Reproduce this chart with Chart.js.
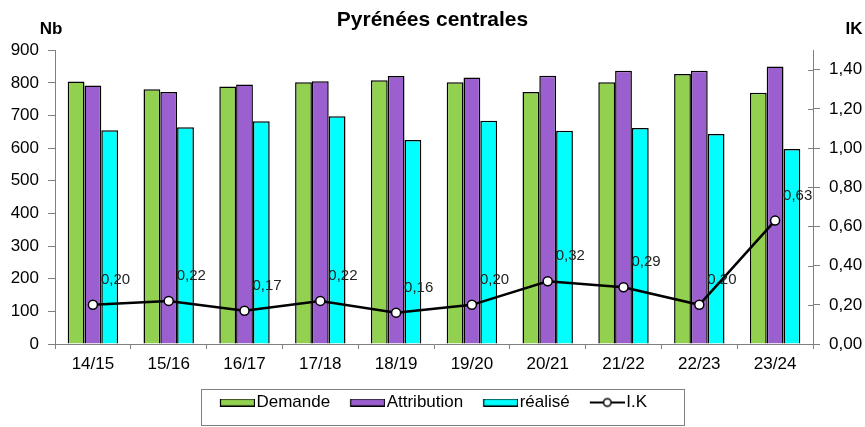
<!DOCTYPE html>
<html><head><meta charset="utf-8">
<script src="https://cdn.jsdelivr.net/npm/chart.js@4.4.1/dist/chart.umd.min.js"></script>
<style>html,body{margin:0;padding:0;background:#fff;} #wrap{width:865px;height:427px;position:relative;}</style>
</head><body><div id="wrap"><canvas id="c"></canvas></div>
<script>
const categories = ['14/15','15/16','16/17','17/18','18/19','19/20','20/21','21/22','22/23','23/24'];
const demande = [804,780,789,802,808,802,772,802,827,770];
const attribution = [792,772,795,805,821,816,822,837,837,850];
const realise = [655,664,682,698,625,684,653,662,643,597];
const ik = [0.20,0.22,0.17,0.22,0.16,0.20,0.32,0.29,0.20,0.63];
const seriesNames = ['Demande','Attribution','réalisé','I.K'];
const chartTitle = 'Pyrénées centrales';
const leftAxisTitle = 'Nb';
const rightAxisTitle = 'IK';

const FONT = "'Liberation Sans', Arial, sans-serif";
const GREEN = '#92D050', PURPLE = '#9B5FCF', CYAN = '#00FFFF';
const AXIS = '#808080';

function swatch(color){
  const c = document.createElement('canvas'); c.width = 44; c.height = 8;
  const x = c.getContext('2d');
  x.fillStyle = color; x.fillRect(9.5,0.5,34,7);
  x.strokeStyle = '#000'; x.lineWidth = 1.2; x.strokeRect(9.5,0.5,34,7);
  return c;
}
function lineIcon(){
  const c = document.createElement('canvas'); c.width = 44; c.height = 12;
  const x = c.getContext('2d');
  x.strokeStyle = '#000'; x.lineWidth = 2;
  x.beginPath(); x.moveTo(9,6); x.lineTo(44,6); x.stroke();
  x.beginPath(); x.arc(26.5,6,3.8,0,Math.PI*2); x.fillStyle='#fff'; x.fill();
  x.lineWidth = 1.5; x.stroke();
  return c;
}
const icons = [swatch(GREEN), swatch(PURPLE), swatch(CYAN), lineIcon()];

const fmt = v => v.toFixed(2).replace('.', ',');

const extras = {
  id: 'extras',
  afterDatasetsDraw(chart){
    const ctx = chart.ctx;
    const meta = chart.getDatasetMeta(3);
    ctx.save();
    ctx.font = "15px " + FONT;
    ctx.fillStyle = '#222';
    ctx.textAlign = 'left'; ctx.textBaseline = 'middle';
    meta.data.forEach((pt,i) => {
      ctx.fillText(fmt(ik[i]), pt.x + 8, pt.y - 25);
    });
    ctx.restore();
  },
  afterDraw(chart){
    const ctx = chart.ctx, ca = chart.chartArea;
    ctx.save();
    ctx.font = "bold 17px " + FONT;
    ctx.fillStyle = '#000';
    ctx.textAlign = 'center'; ctx.textBaseline = 'middle';
    ctx.fillText(leftAxisTitle, ca.left - 4, ca.top - 21);
    ctx.fillText(rightAxisTitle, ca.right + 41, ca.top - 21);
    const y2 = chart.scales.y2;
    ctx.strokeStyle = AXIS; ctx.lineWidth = 1;
    y2.ticks.forEach(t => {
      const py = Math.round(y2.getPixelForValue(t.value)) + 0.5;
      ctx.beginPath(); ctx.moveTo(ca.right - 5, py); ctx.lineTo(ca.right, py); ctx.stroke();
    });
    const lg = chart.legend;
    if (lg && lg.legendHitBoxes && lg.legendHitBoxes.length){
      const hb = lg.legendHitBoxes;
      let l = Infinity, r = -Infinity;
      hb.forEach(h => { l = Math.min(l, h.left); r = Math.max(r, h.left + h.width); });
      l -= 17; r += 37;
      const cy = hb[0].top + hb[0].height/2;
      ctx.strokeStyle = AXIS; ctx.lineWidth = 1;
      ctx.strokeRect(Math.round(l)+0.5, Math.round(cy-14)+0.5, Math.round(r-l), 36);
    }
    ctx.restore();
  }
};

new Chart(document.getElementById('c'), {
  type: 'bar',
  data: {
    labels: categories,
    datasets: [
      {label: seriesNames[0], data: demande, backgroundColor: GREEN, borderColor: '#000', borderWidth: 1.5, yAxisID: 'y', order: 2},
      {label: seriesNames[1], data: attribution, backgroundColor: PURPLE, borderColor: '#000', borderWidth: 1.5, yAxisID: 'y', order: 2},
      {label: seriesNames[2], data: realise, backgroundColor: CYAN, borderColor: '#000', borderWidth: 1.5, yAxisID: 'y', order: 2},
      {type: 'line', label: seriesNames[3], data: ik, yAxisID: 'y2', order: 1,
       borderColor: '#000', borderWidth: 2.5, backgroundColor: '#fff',
       pointBackgroundColor: '#fff', pointBorderColor: '#000', pointBorderWidth: 1.5, pointRadius: 4.5,
       tension: 0, fill: false}
    ]
  },
  options: {
    responsive: true, maintainAspectRatio: false, animation: false,
    devicePixelRatio: 1,
    layout: {padding: {left: 0, right: 0, top: 0, bottom: 6}},
    datasets: {bar: {categoryPercentage: 0.665, barPercentage: 1.0}},
    scales: {
      x: {
        grid: {display: true, drawOnChartArea: false, drawTicks: true, tickLength: 5, color: AXIS, offset: true},
        border: {color: AXIS, width: 1},
        ticks: {color: '#000', font: {family: FONT, size: 17}, padding: 5, maxRotation: 0},
        afterFit: s => { s.height = 32; }
      },
      y: {
        position: 'left', min: 0, max: 900,
        grid: {drawOnChartArea: false, drawTicks: true, tickLength: 7, color: AXIS},
        border: {color: AXIS, width: 1},
        ticks: {stepSize: 100, color: '#000', font: {family: FONT, size: 17}, padding: 9},
        afterFit: s => { s.width = 55; }
      },
      y2: {
        position: 'right', min: 0, max: 1.5,
        grid: {drawOnChartArea: false, drawTicks: true, tickLength: 7, color: AXIS},
        border: {color: AXIS, width: 1},
        ticks: {stepSize: 0.2, color: '#000', font: {family: FONT, size: 17}, padding: 9, callback: v => fmt(v)},
        afterBuildTicks: s => { s.ticks = s.ticks.filter(t => t.value <= 1.4 + 1e-9); },
        afterFit: s => { s.width = 52; }
      }
    },
    plugins: {
      title: {display: true, text: chartTitle, color: '#000', font: {family: FONT, size: 21, weight: 'bold'}, padding: {top: 8, bottom: 17}},
      tooltip: {enabled: false},
      legend: {
        display: true, position: 'bottom',
        labels: {
          usePointStyle: true, pointStyleWidth: 30, boxHeight: 8, padding: 18,
          color: '#000', font: {family: FONT, size: 17},
          generateLabels: chart => {
            const items = Chart.defaults.plugins.legend.labels.generateLabels(chart);
            items.sort((a, b) => a.datasetIndex - b.datasetIndex);
            items.forEach(it => { it.pointStyle = icons[it.datasetIndex]; });
            return items;
          }
        }
      }
    }
  },
  plugins: [extras]
});
</script></body></html>
